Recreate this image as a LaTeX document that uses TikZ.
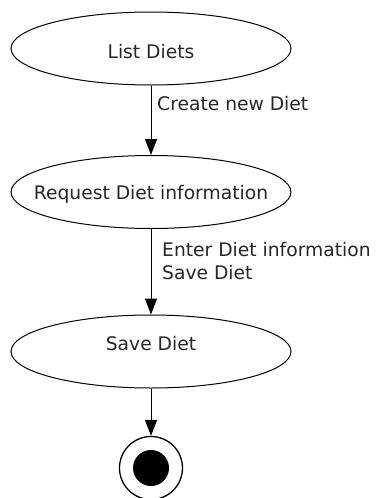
\documentclass[tikz,border=0pt]{standalone}
\usepackage{fontspec}
\setmainfont{DejaVu Sans}
\usetikzlibrary{shapes.geometric,arrows.meta}
\begin{document}
\begin{tikzpicture}[x=1pt,y=-1pt,
  state/.style={draw,ellipse,line width=1pt,minimum width=280pt,minimum height=73pt,inner sep=0pt},
  txt/.style={inner sep=0pt,font=\fontsize{18.7}{23}\selectfont,text=black!85},
  flow/.style={line width=1pt,-{Triangle[length=16pt,width=12pt]}}]
  \useasboundingbox (0,0) rectangle (377,498);
  % activity states
  \node[state] (list) at (151,48.5) {};
  \node[txt,anchor=base] (listtxt) at (151,58) {List Diets};
  \node[state] (request) at (151,192) {};
  \node[txt,anchor=base] (requesttxt) at (151,199) {Request Diet information};
  \node[state] (save) at (151,351.5) {};
  \node[txt,anchor=base] (savetxt) at (151,350) {Save Diet};
  % final state
  \node[draw,circle,line width=1.3pt,minimum size=63pt,inner sep=0pt] (final) at (151,468) {};
  \node[fill=black,circle,minimum size=36pt,inner sep=0pt] (finaldot) at (final.center) {};
  % transitions
  \draw[flow] (list.south) -- (request.north);
  \draw[flow] (request.south) -- (save.north);
  \draw[flow] (save.south) -- (final.north);
  % transition labels
  \node[txt,anchor=base west] (lbl1) at (157,110) {Create new Diet};
  \node[txt,anchor=base west,align=left] (lbl2) at (162,279) {Enter Diet information\\Save Diet};
\end{tikzpicture}
\end{document}
